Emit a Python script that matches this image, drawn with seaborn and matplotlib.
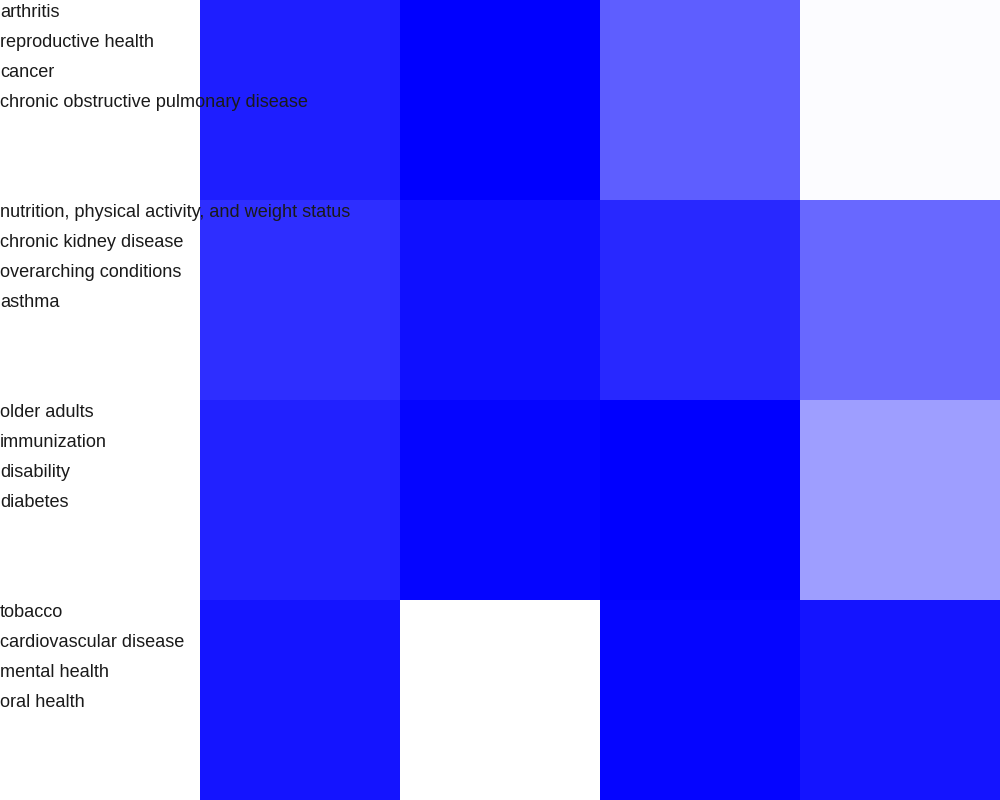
import matplotlib
matplotlib.use("Agg")
import matplotlib.pyplot as plt
import seaborn as sns
import numpy as np
from matplotlib.colors import LinearSegmentedColormap

# Heat values (0 = white, 1 = full blue)
row0 = [0.88, 1.00, 0.63, 0.015]
row1 = [0.82, 0.94, 0.84, 0.59]
row2 = [0.87, 0.98, 1.00, 0.38]
row3 = [0.92, 0.00, 0.98, 0.92]

labels0 = ["arthritis", "reproductive health", "cancer", "chronic obstructive pulmonary disease"]
labels1 = ["nutrition, physical activity, and weight status", "chronic kidney disease", "overarching conditions", "asthma"]
labels2 = ["older adults", "immunization", "disability", "diabetes"]
labels3 = ["tobacco", "cardiovascular disease", "mental health", "oral health"]

data = np.array([row0, row1, row2, row3])
label_rows = [labels0, labels1, labels2, labels3]

cmap = LinearSegmentedColormap.from_list("wb", ["#ffffff", "#0000ff"])

fig = plt.figure(figsize=(10, 8), dpi=100)
ax = fig.add_axes([0.2, 0.0, 0.8, 1.0])
sns.heatmap(data, ax=ax, cmap=cmap, vmin=0, vmax=1, cbar=False,
            xticklabels=False, yticklabels=False, square=False)
ax.set_xlabel("")
ax.set_ylabel("")

H = 800.0
for r, labs in enumerate(label_rows):
    for i, lab in enumerate(labs):
        y = r * 200 + 12.5 + i * 30
        fig.text(0.0, 1 - y / H, lab, ha="left", va="center",
                 fontsize=13.1, family=["Liberation Sans", "DejaVu Sans"],
                 color="#1a1a1a", zorder=10)

fig.savefig("out.png", dpi=100)
